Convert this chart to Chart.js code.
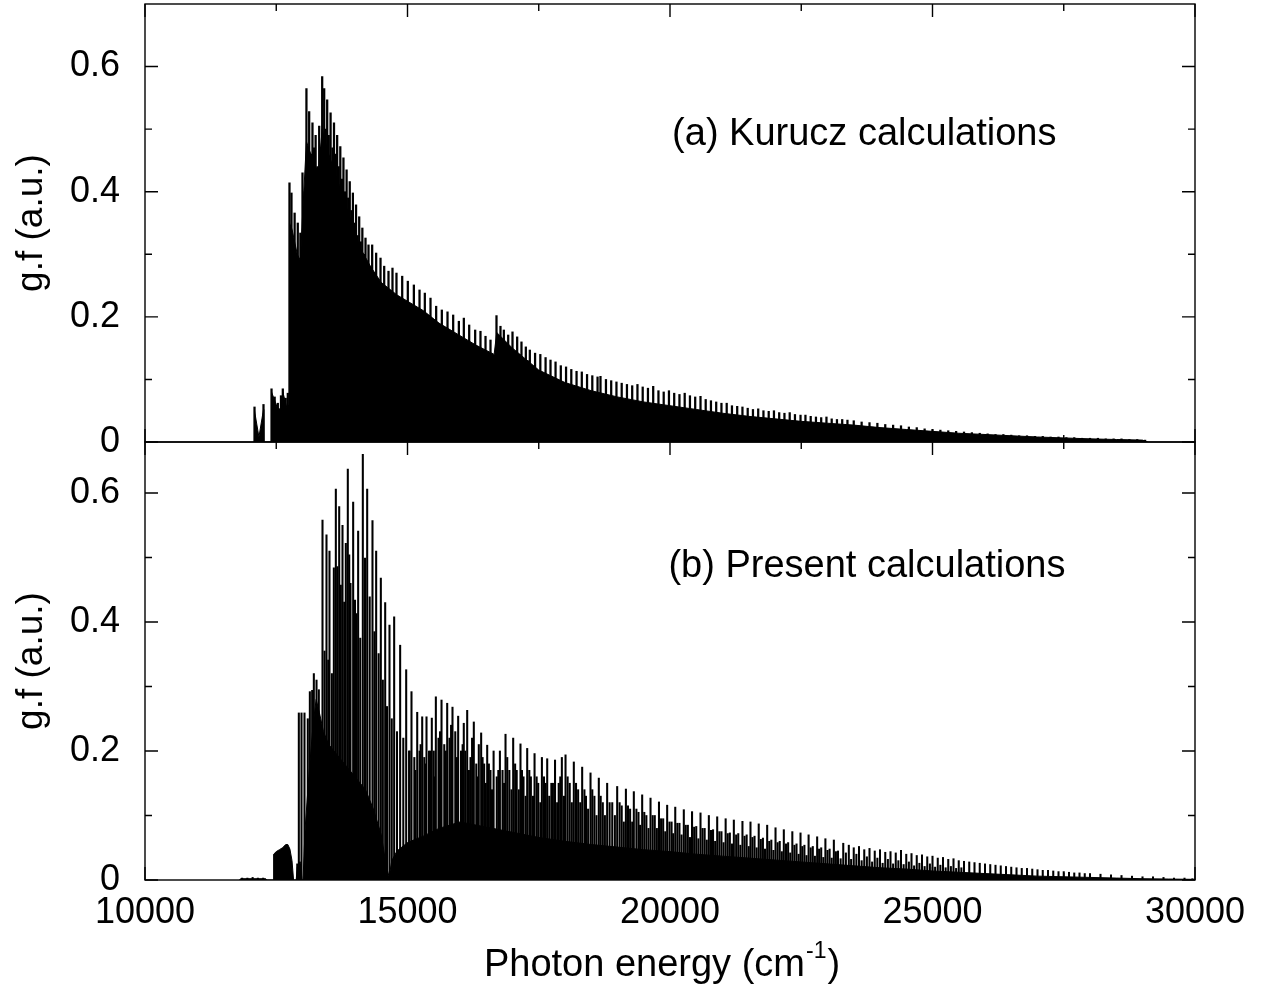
<!DOCTYPE html>
<html>
<head>
<meta charset="utf-8">
<title>g.f stick spectra</title>
<script src="https://cdn.jsdelivr.net/npm/chart.js@4.4.1/dist/chart.umd.min.js"></script>
<style>
  body { margin: 0; background: #fff; }
  #wrap { position: relative; width: 1263px; height: 988px; }
  #wrap canvas { position: absolute; left: 0; top: 0; }
</style>
</head>
<body>
<div id="wrap">
  <canvas id="topChart" width="1263" height="988"></canvas>
  <canvas id="bottomChart" width="1263" height="988"></canvas>
</div>
<script>
// tick values
const xTicks = [10000, 15000, 20000, 25000, 30000];
const xMinorTicks = [12500, 17500, 22500, 27500];
const yTicks = [0, 0.2, 0.4, 0.6];
const yMinorTicks = [0.1, 0.3, 0.5];

// (a) Kurucz: strong lines [energy, g.f]
const kuruczLines = [
  [12086,0.056],[12257,0.060],[12410,0.085],[12470,0.072],[12530,0.062],[12590,0.074],[12625,0.085],[12680,0.070],[12720,0.078],
  [12752,0.414],[12790,0.398],[12850,0.366],[12910,0.350],[12960,0.334],[13000,0.430],[13040,0.400],[13075,0.565],[13127,0.528],
  [13160,0.460],[13190,0.510],[13220,0.470],[13250,0.490],[13285,0.440],[13318,0.505],[13345,0.470],[13375,0.584],[13413,0.565],
  [13440,0.500],[13470,0.547],[13500,0.490],[13535,0.526],[13570,0.470],[13600,0.510],[13630,0.460],[13660,0.490],[13690,0.440],
  [13720,0.472],[13750,0.420],[13780,0.454],[13810,0.400],[13840,0.435],[13870,0.390],[13900,0.416],[13930,0.370],[13960,0.398],
  [13990,0.350],[14020,0.379],[14050,0.330],[14080,0.360],[14110,0.320],[14140,0.342],[14170,0.300],[14200,0.326],[14257,0.315],
  [14290,0.280],[14327,0.315],[14360,0.270],[14403,0.302],[14440,0.260],[14486,0.294],[14520,0.250],[14556,0.281],[14600,0.240],
  [14638,0.273],[14670,0.240],[14714,0.278],[14750,0.230],[14790,0.270],[14840,0.230],[14899,0.265],[14950,0.220],[15006,0.257],
  [15060,0.220],[15121,0.251],[15170,0.210],[15229,0.243],[15280,0.200],[15330,0.238],[15380,0.200],[15438,0.230],[15490,0.190],
  [15546,0.217],[15600,0.180],[15654,0.211],[15710,0.180],[15762,0.208],[15820,0.170],[15870,0.203],[15920,0.170],[15978,0.193],
  [16030,0.160],[16073,0.198],[16120,0.160],[16175,0.187],[16230,0.150],[16289,0.179],[16340,0.150],[16390,0.177],[16440,0.140],
  [16486,0.169],[16530,0.140],[16581,0.163],[16640,0.130],[16695,0.202],[16730,0.170],[16771,0.185],[16800,0.160],[16835,0.179],
  [16870,0.150],[16918,0.171],[16960,0.150],[17000,0.176],[17040,0.140],[17089,0.168],[17130,0.140],[17171,0.160],[17210,0.130],
  [17254,0.152],[17290,0.130],[17330,0.147],[17430,0.142],[17530,0.140],[17630,0.135],[17724,0.131],[17820,0.128],[17920,0.122],
  [18020,0.120],[18120,0.116],[18220,0.113],[18320,0.112],[18420,0.108],[18520,0.106],[18620,0.104],[18676,0.105],[18780,0.100],
  [18880,0.098],[18980,0.096],[19080,0.094],[19180,0.092],[19280,0.090],[19380,0.092],[19480,0.088],[19580,0.086],[19680,0.089],
  [19780,0.082],[19880,0.080],[19980,0.082],[20080,0.078],[20180,0.076],[20280,0.078],[20380,0.074],[20480,0.072],[20581,0.073],
  [20680,0.068],[20780,0.066],[20880,0.064],[20980,0.062],[21080,0.062],[21180,0.058],[21280,0.057],[21380,0.056],[21480,0.054],
  [21580,0.052],[21680,0.053],[21780,0.050],[21880,0.049],[21980,0.050],[22080,0.047],[22180,0.046],[22280,0.047],[22380,0.044],
  [22486,0.043],[22580,0.043],[22680,0.041],[22780,0.040],[22880,0.039],[22980,0.040],[23080,0.037],[23180,0.036],[23280,0.036],
  [23380,0.035],[23500,0.034],[23650,0.032],[23800,0.031],[23950,0.030],[24100,0.028],[24250,0.027],[24400,0.026],[24550,0.024],
  [24700,0.023],[24850,0.021],[25000,0.020],[25150,0.019],[25300,0.018],[25450,0.017],[25600,0.016],[25750,0.015],[25900,0.014],
  [26050,0.013],[26200,0.012],[26350,0.012],[26500,0.011],[26650,0.010],[26800,0.010],[26950,0.009],[27100,0.009],[27250,0.008],
  [27400,0.008],[27550,0.007],[27700,0.007],[27850,0.006],[28000,0.006],[28150,0.006],[28300,0.005],[28450,0.005],[28600,0.005],
  [28750,0.004],[28900,0.004],[29050,0.003]
];

// (a) Kurucz: dense unresolved lines, drawn as a filled band
const kuruczBody = [
  [12080,0],[12086,0.050],[12170,0.008],[12257,0.052],[12262,0],[12405,0],[12410,0.080],[12520,0.055],[12620,0.050],
  [12625,0.080],[12700,0.055],[12745,0.060],[12752,0.350],[12800,0.340],[12900,0.300],[12960,0.290],[13000,0.360],
  [13075,0.480],[13200,0.450],[13300,0.430],[13375,0.500],[13500,0.460],[13700,0.410],[13900,0.360],[14100,0.310],
  [14300,0.280],[14500,0.255],[14800,0.235],[15000,0.225],[15300,0.210],[15600,0.190],[16000,0.170],[16300,0.155],
  [16650,0.140],[16700,0.175],[17000,0.150],[17500,0.115],[18000,0.095],[18500,0.082],[19000,0.072],[19500,0.064],
  [20000,0.058],[20500,0.052],[21000,0.046],[21500,0.041],[22000,0.037],[22500,0.033],[23000,0.030],[23500,0.027],
  [24000,0.023],[24500,0.020],[25000,0.017],[25500,0.014],[26000,0.012],[26500,0.010],[27000,0.008],[27500,0.0065],
  [28000,0.005],[28500,0.004],[29000,0.003],[29100,0]
];

// (b) present work: strong lines [energy, g.f]
const presentLines = [
  [11850,0.003],[11950,0.003],[12050,0.004],[12150,0.003],[12250,0.003],[12900,0.025],[12950,0.028],
  [12930,0.259],[12981,0.259],[13038,0.259],[13101,0.250],[13140,0.292],[13184,0.294],[13216,0.320],[13267,0.310],[13311,0.295],
  [13381,0.558],[13420,0.355],[13457,0.535],[13490,0.341],[13514,0.510],[13560,0.320],[13597,0.484],[13635,0.606],[13665,0.486],
  [13699,0.579],[13730,0.457],[13762,0.550],[13795,0.431],[13825,0.522],[13863,0.637],[13890,0.504],[13914,0.460],[13965,0.586],
  [14000,0.434],[14030,0.413],[14060,0.541],[14100,0.375],[14149,0.660],[14190,0.499],[14232,0.606],[14280,0.439],[14333,0.557],
  [14370,0.385],[14403,0.510],[14450,0.351],[14492,0.468],[14530,0.310],[14575,0.430],[14610,0.269],[14657,0.395],[14700,0.250],
  [14746,0.408],[14800,0.230],[14860,0.364],[14920,0.220],[14975,0.326],[15030,0.200],[15076,0.292],[15130,0.190],[15185,0.260],
  [15230,0.200],[15280,0.253],[15320,0.190],[15362,0.253],[15410,0.200],[15463,0.251],[15500,0.200],[15540,0.284],[15590,0.220],
  [15648,0.279],[15700,0.210],[15756,0.274],[15800,0.220],[15857,0.268],[15910,0.230],[15965,0.254],[16020,0.200],[16072,0.243],
  [16100,0.200],[16137,0.263],[16200,0.190],[16263,0.245],[16310,0.180],[16358,0.210],[16403,0.228],[16460,0.180],[16518,0.209],
  [16580,0.170],[16640,0.200],[16700,0.160],[16760,0.200],[16810,0.170],[16867,0.226],[16940,0.170],[17013,0.220],[17080,0.170],
  [17152,0.211],[17210,0.160],[17280,0.204],[17350,0.160],[17420,0.196],[17490,0.150],[17560,0.190],[17630,0.150],[17661,0.188],
  [17740,0.150],[17810,0.186],[17880,0.150],[17940,0.190],[18010,0.194],[18090,0.150],[18168,0.183],[18250,0.140],[18327,0.175],
  [18400,0.130],[18486,0.166],[18560,0.130],[18644,0.158],[18720,0.120],[18803,0.150],[18900,0.120],[18994,0.145],[19080,0.115],
  [19160,0.141],[19240,0.110],[19311,0.137],[19400,0.105],[19470,0.132],[19550,0.100],[19629,0.127],[19710,0.100],[19790,0.121],
  [19870,0.095],[19946,0.116],[20030,0.090],[20100,0.113],[20180,0.088],[20263,0.109],[20340,0.085],[20420,0.106],[20500,0.083],
  [20581,0.104],[20660,0.080],[20740,0.100],[20820,0.078],[20899,0.098],[20980,0.075],[21060,0.095],[21140,0.073],[21216,0.093],
  [21300,0.072],[21380,0.091],[21460,0.070],[21533,0.090],[21610,0.068],[21690,0.087],[21770,0.065],[21851,0.085],[21930,0.062],
  [22010,0.081],[22090,0.060],[22168,0.078],[22250,0.058],[22330,0.075],[22410,0.056],[22486,0.073],[22560,0.054],[22640,0.070],
  [22720,0.052],[22803,0.067],[22880,0.050],[22960,0.064],[23040,0.048],[23121,0.062],[23200,0.045],[23300,0.057],[23406,0.054],
  [23500,0.050],[23600,0.052],[23700,0.047],[23800,0.049],[23900,0.045],[24000,0.047],[24100,0.043],[24200,0.044],[24300,0.042],
  [24400,0.046],[24500,0.040],[24600,0.041],[24700,0.038],[24800,0.039],[24900,0.036],[25000,0.037],[25100,0.034],[25200,0.035],
  [25300,0.032],[25400,0.033],[25500,0.030],[25600,0.029],[25700,0.028],[25800,0.027],[25900,0.026],[26000,0.025],[26100,0.024],
  [26200,0.023],[26300,0.022],[26400,0.021],[26500,0.020],[26600,0.019],[26700,0.018],[26800,0.018],[26900,0.017],[27000,0.016],
  [27100,0.015],[27200,0.015],[27300,0.014],[27400,0.013],[27500,0.013],[27600,0.012],[27700,0.011],[27800,0.011],[27900,0.010],
  [28000,0.010],[28200,0.009],[28400,0.008],[28600,0.007],[28800,0.006],[29000,0.005],[29200,0.005],[29400,0.004],[29600,0.003],
  [29800,0.003],[29950,0.002]
];

// (b) present work: weaker lines lying between the strong ones
const presentWeak = [
  [15040,0.200],[15150,0.170],[15250,0.210],[15340,0.180],[15440,0.200],[15520,0.160],[15620,0.230],[15730,0.200],[15830,0.240],
  [15940,0.190],[16050,0.210],[16170,0.170],[16230,0.220],[16340,0.160],[16430,0.190],[16490,0.150],[16550,0.180],[16610,0.140],
  [16730,0.170],[16840,0.150],[16900,0.190],[16980,0.140],[17050,0.180],[17120,0.140],[17180,0.170],[17250,0.130],[17320,0.170],
  [17390,0.130],[17460,0.160],[17530,0.120],[17600,0.160],[17700,0.130],[17770,0.150],[17850,0.120],[17910,0.160],[17980,0.130],
  [18050,0.160],[18130,0.120],[18210,0.150],[18290,0.120],[18370,0.140],[18440,0.110],[18520,0.140],[18600,0.100],[18680,0.130],
  [18760,0.100],[18850,0.120],[18950,0.100],[19040,0.120],[19120,0.090],[19200,0.115],[19280,0.090],[19360,0.110],[19430,0.085],
  [19510,0.105],[19590,0.080],[19670,0.100],[19750,0.080],[19830,0.095],[19910,0.075],[19990,0.090],[20060,0.072],[20140,0.088],
  [20220,0.070],[20300,0.085],[20380,0.066],[20460,0.082],[20540,0.064],[20620,0.080],[20700,0.062],[20780,0.077],[20860,0.060],
  [20940,0.075],[21020,0.058],[21100,0.072],[21180,0.056],[21260,0.070],[21340,0.054],[21420,0.068],[21500,0.052],[21570,0.066],
  [21650,0.050],[21730,0.063],[21810,0.048],[21890,0.060],[21970,0.046],[22050,0.058],[22130,0.044],[22210,0.056],[22290,0.042],
  [22370,0.054],[22450,0.040],[22520,0.052],[22600,0.038],[22680,0.050],[22760,0.037],[22840,0.048],[22920,0.035],[23000,0.046],
  [23080,0.034],[23160,0.044],[23250,0.033],[23350,0.042],[23450,0.032],[23550,0.040],[23650,0.030],[23750,0.036],[23850,0.028],
  [23950,0.034],[24050,0.026],[24150,0.032],[24250,0.025],[24350,0.030],[24450,0.024],[24550,0.028],[24650,0.022],[24750,0.026],
  [24850,0.021],[24950,0.025],[25050,0.020],[25150,0.023],[25250,0.019],[25350,0.021],[25450,0.018],[25550,0.019]
];

// (b) present work: dense unresolved lines
const presentBody = [
  [11800,0],[11820,0.002],[12300,0.002],[12320,0],[12440,0],[12450,0.040],[12500,0.044],[12560,0.047],[12620,0.050],
  [12680,0.055],[12720,0.055],[12760,0.048],[12800,0.030],[12830,0],[12880,0],[12900,0.020],[12960,0.025],[12990,0],
  [13010,0],[13050,0.080],[13120,0.160],[13200,0.240],[13260,0.280],[13320,0.260],[13400,0.230],[13500,0.210],[13600,0.200],
  [13800,0.180],[14000,0.160],[14200,0.140],[14350,0.110],[14500,0.070],[14600,0.020],[14650,0.005],[14700,0.030],
  [14800,0.045],[15000,0.058],[15300,0.068],[15600,0.080],[16000,0.090],[16500,0.082],[17000,0.074],[17500,0.066],
  [18000,0.060],[18500,0.055],[19000,0.051],[19500,0.047],[20000,0.044],[20500,0.040],[21000,0.037],[21500,0.034],
  [22000,0.031],[22500,0.028],[23000,0.025],[23500,0.022],[24000,0.019],[24500,0.017],[25000,0.014],[25500,0.012],
  [26000,0.010],[26500,0.008],[27000,0.006],[27500,0.005],[28000,0.004],[28500,0.003],[29000,0.002],[29500,0.0015],[30000,0.001]
];

const FONT = '"Liberation Sans", Arial, Helvetica, sans-serif';
const LEFT = 145;
const RIGHT = 1195;
const MAJOR = 13;
const MINOR = 7;

Chart.defaults.font.family = FONT;
Chart.defaults.color = '#000';

function toPoints(pairs) {
  return pairs.map(p => ({x: p[0], y: p[1]}));
}

// box, inward ticks on four sides, panel label, optional x title
const framePlugin = {
  id: 'frame',
  afterDatasetsDraw(chart, args, opts) {
    const ctx = chart.ctx;
    const a = chart.chartArea;
    const xs = chart.scales.x;
    const ys = chart.scales.y;
    ctx.save();
    ctx.strokeStyle = '#000';
    ctx.lineWidth = 1.4;
    ctx.beginPath();
    xTicks.concat(xMinorTicks).forEach(v => {
      const len = xTicks.includes(v) ? MAJOR : MINOR;
      const px = xs.getPixelForValue(v);
      ctx.moveTo(px, a.bottom);
      ctx.lineTo(px, a.bottom - len);
      ctx.moveTo(px, a.top);
      ctx.lineTo(px, a.top + len);
    });
    yTicks.concat(yMinorTicks).forEach(v => {
      const len = yTicks.includes(v) ? MAJOR : MINOR;
      const py = ys.getPixelForValue(v);
      ctx.moveTo(a.left, py);
      ctx.lineTo(a.left + len, py);
      ctx.moveTo(a.right, py);
      ctx.lineTo(a.right - len, py);
    });
    ctx.stroke();
    ctx.strokeRect(a.left, a.top, a.right - a.left, a.bottom - a.top);

    ctx.fillStyle = '#000';
    ctx.textBaseline = 'alphabetic';
    ctx.textAlign = 'left';
    ctx.font = '38px ' + FONT;
    ctx.fillText(opts.text, xs.getPixelForValue(opts.x), ys.getPixelForValue(opts.y));

    if (opts.xTitle) {
      const main = 'Photon energy (cm';
      const sup = '-1';
      ctx.font = '38px ' + FONT;
      const w1 = ctx.measureText(main).width;
      const w3 = ctx.measureText(')').width;
      ctx.font = '23px ' + FONT;
      const w2 = ctx.measureText(sup).width;
      const x0 = (a.left + a.right) / 2 - 9 - (w1 + w2 + w3) / 2;
      const base = a.bottom + 96;
      ctx.font = '38px ' + FONT;
      ctx.fillText(main, x0, base);
      ctx.font = '23px ' + FONT;
      ctx.fillText(sup, x0 + w1 + 1, base - 18);
      ctx.font = '38px ' + FONT;
      ctx.fillText(')', x0 + w1 + w2 + 2, base);
    }
    ctx.restore();
  }
};

function makePanel(canvasId, p) {
  const datasets = [{
    type: 'line',
    data: toPoints(p.body),
    borderColor: '#000',
    borderWidth: 1,
    backgroundColor: '#000',
    fill: 'origin',
    pointRadius: 0,
    tension: 0
  }];
  p.lines.forEach(set => {
    datasets.push({
      type: 'bar',
      data: toPoints(set),
      backgroundColor: '#000',
      borderWidth: 0,
      barThickness: p.barWidth,
      grouped: false
    });
  });

  return new Chart(document.getElementById(canvasId), {
    type: 'bar',
    data: {datasets: datasets},
    options: {
      responsive: false,
      animation: false,
      events: [],
      layout: {padding: {left: 0, right: 1263 - RIGHT, top: p.top, bottom: 0}},
      plugins: {
        legend: {display: false},
        tooltip: {enabled: false},
        frame: {text: p.label, x: p.labelX, y: p.labelY, xTitle: p.showX}
      },
      scales: {
        x: {
          type: 'linear',
          min: 10000,
          max: 30000,
          offset: false,
          grid: {display: false, drawTicks: false},
          border: {display: false},
          ticks: {display: p.showX, padding: 11, font: {size: 36}, callback: v => String(v)},
          afterBuildTicks: s => { s.ticks = xTicks.map(v => ({value: v})); },
          afterFit: s => { s.height = 988 - p.bottom; s.paddingLeft = 0; s.paddingRight = 0; }
        },
        y: {
          type: 'linear',
          min: 0,
          max: p.yMax,
          grid: {display: false, drawTicks: false},
          border: {display: false},
          ticks: {padding: 25, font: {size: 36}, callback: v => v === 0 ? '0' : v.toFixed(1)},
          afterBuildTicks: s => { s.ticks = yTicks.map(v => ({value: v})); },
          afterFit: s => { s.width = LEFT; s.paddingTop = 0; s.paddingBottom = 0; },
          title: {display: true, text: 'g.f (a.u.)', font: {size: 37}, padding: {top: 10, bottom: 0}}
        }
      }
    },
    plugins: [framePlugin]
  });
}

const topChart = makePanel('topChart', {
  lines: [kuruczLines],
  body: kuruczBody,
  yMax: 0.7,
  top: 4,
  bottom: 442,
  barWidth: 1.6,
  showX: false,
  label: '(a) Kurucz calculations',
  labelX: 20040,
  labelY: 0.475
});

const bottomChart = makePanel('bottomChart', {
  lines: [presentLines, presentWeak],
  body: presentBody,
  yMax: 0.679,
  top: 442,
  bottom: 880,
  barWidth: 1.4,
  showX: true,
  label: '(b) Present calculations',
  labelX: 19970,
  labelY: 0.47
});
</script>
</body>
</html>
